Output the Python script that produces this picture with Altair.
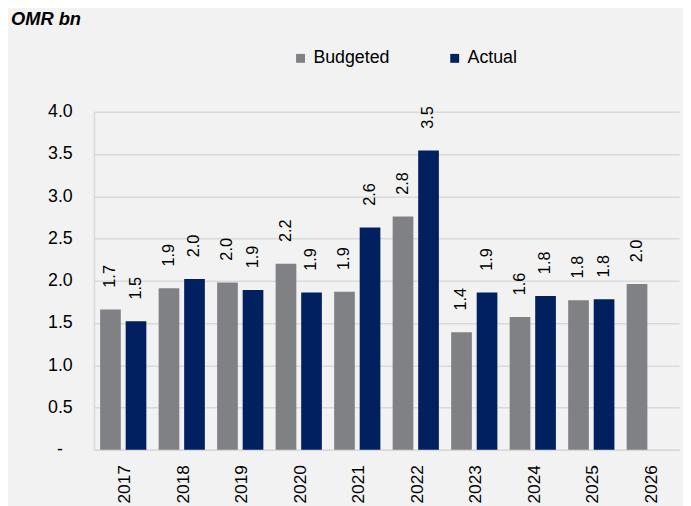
import altair as alt
import pandas as pd

years = ["2017", "2018", "2019", "2020", "2021", "2022", "2023", "2024", "2025", "2026"]
budgeted = [1.66, 1.91, 1.98, 2.20, 1.87, 2.76, 1.39, 1.57, 1.77, 1.96]
actual = [1.52, 2.02, 1.89, 1.86, 2.63, 3.54, 1.86, 1.82, 1.78, None]
series = ["Budgeted", "Actual"]
colors = ["#808185", "#00205f"]
y_ticks = [0, 0.5, 1.0, 1.5, 2.0, 2.5, 3.0, 3.5, 4.0]

rows = []
for i, yr in enumerate(years):
    for s, vals in zip(series, [budgeted, actual]):
        if vals[i] is not None:
            rows.append({"year": yr, "series": s, "value": vals[i]})
df = pd.DataFrame(rows)

FONT = "Liberation Sans"

x_enc = alt.X(
    "year:N",
    sort=years,
    scale=alt.Scale(paddingInner=0.21, paddingOuter=0.105),
    axis=alt.Axis(
        title=None,
        labelAngle=-90,
        ticks=False,
        labelPadding=15,
        labelOffset=2,
        labelFontSize=17.5,
        labelFont=FONT,
        labelColor="#000000",
        domainColor="#d9d9d9",
        domainWidth=1.5,
        grid=False,
    ),
)
xoff = alt.XOffset(
    "series:N",
    sort=series,
    scale=alt.Scale(domain=series, paddingInner=0.19, paddingOuter=0),
)
color = alt.Color(
    "series:N",
    sort=series,
    scale=alt.Scale(domain=series, range=colors),
    legend=alt.Legend(
        title=None,
        orient="none",
        direction="horizontal",
        legendX=200,
        legendY=-63,
        symbolType="square",
        symbolSize=81,
        symbolStrokeWidth=0,
        labelFontSize=18,
        labelFont=FONT,
        labelColor="#000000",
        labelOffset=4,
        columnPadding=56,
        padding=0,
    ),
)
y_enc = alt.Y(
    "value:Q",
    scale=alt.Scale(domain=[0, 4], nice=False),
    axis=alt.Axis(
        title=None,
        values=y_ticks,
        ticks=False,
        labelPadding={"condition": {"test": "datum.value == 0", "value": 32}, "value": 22},
        labelFontSize=18,
        labelFont=FONT,
        labelColor="#000000",
        labelExpr="datum.value == 0 ? '-' : format(datum.value, '.1f')",
        gridColor="#d9d9d9",
        gridWidth=1.5,
        domainColor="#d9d9d9",
        domainWidth=1.5,
    ),
)

base = alt.Chart(df)
bars = base.mark_bar().encode(x=x_enc, xOffset=xoff, y=y_enc, color=color)
labels = base.mark_text(
    angle=270, align="left", baseline="middle", dx=22, fontSize=16.5, font=FONT, color="#000000"
).encode(
    x=alt.X("year:N", sort=years),
    xOffset=alt.XOffset("series:N", sort=series),
    y=alt.Y("value:Q"),
    text=alt.Text("value:Q", format=".1f"),
)

chart = (
    alt.layer(bars, labels)
    .properties(
        width=592,
        height=342,
        autosize=alt.AutoSizeParams(type="none"),
        padding={"left": 87, "top": 102, "right": 4, "bottom": 54},
        background="#f2f2f2",
        title=alt.TitleParams(
            text="OMR bn",
            anchor="start",
            frame="group",
            dx=-84,
            dy=-17,
            fontSize=18.5,
            font=FONT,
            fontStyle="italic",
            fontWeight="bold",
            color="#000000",
        ),
    )
    .configure_view(stroke=None)
)

chart.save("out.html", embed_options={"renderer": "svg", "actions": False})
